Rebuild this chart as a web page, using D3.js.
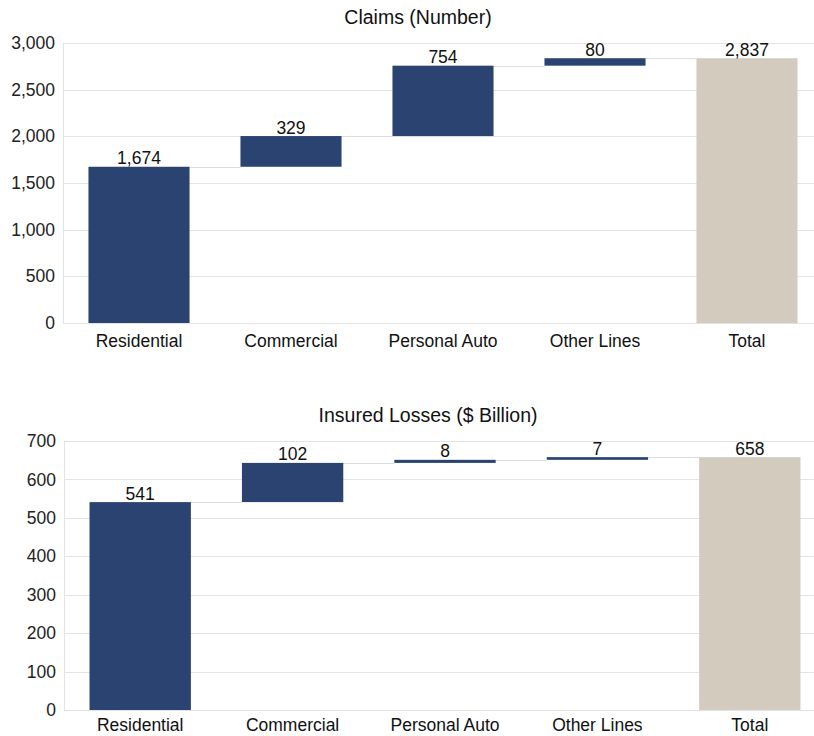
<!DOCTYPE html>
<html><head><meta charset="utf-8">
<script src="https://cdn.jsdelivr.net/npm/d3@7"></script>
<style>body{margin:0;background:#fff}svg{display:block;font-family:"Liberation Sans",Arial,sans-serif}</style>
</head><body><svg id="c" width="814" height="736"></svg>
<script>
const categories = ["Residential","Commercial","Personal Auto","Other Lines","Total"];
const claimsValues = [1674, 329, 754, 80];
const claimsTotal = 2837;
const claimsTicks = [0,500,1000,1500,2000,2500,3000];
const lossValues = [541, 102, 8, 7];
const lossTotal = 658;
const lossTicks = [0,100,200,300,400,500,600,700];
const titles = ["Claims (Number)", "Insured Losses ($ Billion)"];

const svg = d3.select("#c");
const navy = "#2a4370", beige = "#d3cbbe", grid = "#e3e3e3";
const FS = 17.5;

function waterfall(cfg){
  const g = svg.append("g");
  const x = d3.scaleBand().domain(categories).range([cfg.left, cfg.right]).paddingInner(0.335).paddingOuter(0.1675);
  const y = d3.scaleLinear().domain([0, cfg.max]).range([cfg.bottom, cfg.top]);
  g.selectAll("line.grid").data(cfg.ticks).join("line")
    .attr("x1", cfg.left).attr("x2", 814).attr("y1", d=>Math.round(y(d))+0.5).attr("y2", d=>Math.round(y(d))+0.5)
    .attr("stroke", grid).attr("stroke-width", 1);
  g.append("line").attr("x1", cfg.left+0.5).attr("x2", cfg.left+0.5).attr("y1", cfg.top).attr("y2", cfg.bottom)
    .attr("stroke", grid);
  g.selectAll("text.yt").data(cfg.ticks).join("text")
    .attr("x", cfg.left-8).attr("y", d=>y(d)).attr("dy","0.35em").attr("text-anchor","end")
    .attr("font-size", FS).attr("fill","#222").text(d=>d3.format(",")(d));
  let cum = 0;
  const bars = cfg.values.map((v,i)=>{const b={cat:categories[i], y0:cum, y1:cum+v, v:v, total:false}; cum+=v; return b;});
  bars.push({cat:categories[4], y0:0, y1:cfg.total, v:cfg.total, total:true});
  for(let i=0;i<bars.length-1;i++){
    const lvl = bars[i].y1;
    g.append("line").attr("x1", x(bars[i].cat)+x.bandwidth()).attr("x2", x(bars[i+1].cat))
      .attr("y1", Math.round(y(lvl))+0.5).attr("y2", Math.round(y(lvl))+0.5).attr("stroke", "#dcdcdc").attr("stroke-width",1);
  }
  g.selectAll("rect.bar").data(bars).join("rect")
    .attr("x", d=>x(d.cat)).attr("width", x.bandwidth())
    .attr("y", d=>y(d.y1)).attr("height", d=>Math.max(2, y(d.y0)-y(d.y1)))
    .attr("fill", d=>d.total?beige:navy);
  g.selectAll("text.lbl").data(bars).join("text")
    .attr("x", d=>x(d.cat)+x.bandwidth()/2).attr("y", d=>y(d.y1)-2.5).attr("text-anchor","middle")
    .attr("font-size", FS).attr("fill","#111").text(d=>d3.format(",")(d.v));
  g.selectAll("text.cat").data(categories).join("text")
    .attr("x", d=>x(d)+x.bandwidth()/2).attr("y", cfg.bottom+cfg.catOffset).attr("text-anchor","middle")
    .attr("font-size", FS).attr("fill","#111").text(d=>d);
  g.append("text").attr("x", cfg.titleX).attr("y", cfg.titleY).attr("text-anchor","middle")
    .attr("font-size", 19.5).attr("fill","#111").text(cfg.title);
}

waterfall({left:63, right:823, top:43, bottom:323, max:3000, ticks:claimsTicks, values:claimsValues, total:claimsTotal, title:titles[0], titleX:418, titleY:24, catOffset:24});
waterfall({left:64, right:826, top:441, bottom:710, max:700, ticks:lossTicks, values:lossValues, total:lossTotal, title:titles[1], titleX:428, titleY:422, catOffset:21});
</script></body></html>
